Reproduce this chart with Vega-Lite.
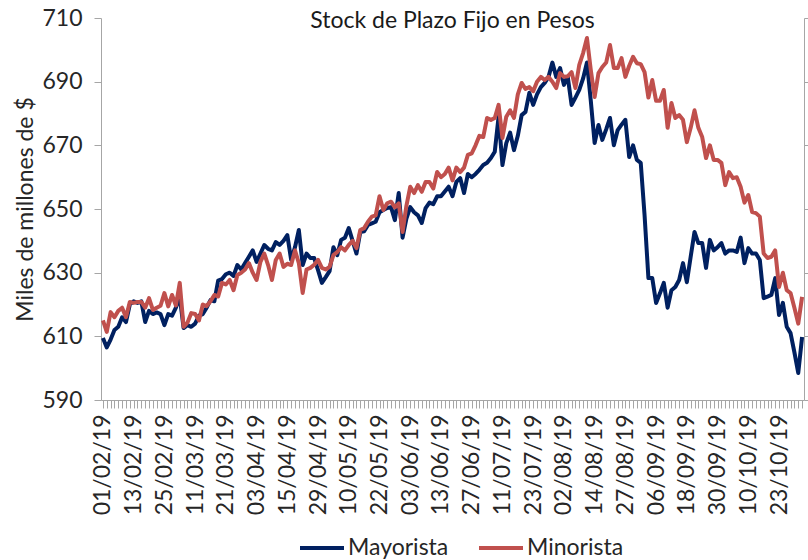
{
  "$schema": "https://vega.github.io/schema/vega-lite/v6.json",
  "width": 703,
  "height": 382,
  "autosize": {"type": "none"},
  "padding": {"left": 101, "top": 18, "right": 4, "bottom": 160},
  "background": "white",
  "config": {"view": {"stroke": null}, "font": "Lato"},
  "title": {"text": "Stock de Plazo Fijo en Pesos", "fontSize": 23, "fontWeight": "normal", "font": "Lato", "color": "#1a1a1a", "offset": -26, "anchor": "middle", "frame": "group"},
  "data": {"values": [
    {"d":"01/02/19","Mayorista":609.5,"Minorista":615},
    {"d":"04/02/19","Mayorista":606.5,"Minorista":611.4},
    {"d":"05/02/19","Mayorista":609,"Minorista":617.6},
    {"d":"06/02/19","Mayorista":612,"Minorista":616},
    {"d":"07/02/19","Mayorista":613,"Minorista":618},
    {"d":"08/02/19","Mayorista":616,"Minorista":619},
    {"d":"11/02/19","Mayorista":614.5,"Minorista":616},
    {"d":"12/02/19","Mayorista":620,"Minorista":620.8},
    {"d":"13/02/19","Mayorista":621,"Minorista":620.5},
    {"d":"14/02/19","Mayorista":620.5,"Minorista":620.8},
    {"d":"15/02/19","Mayorista":621,"Minorista":620.8},
    {"d":"18/02/19","Mayorista":614.5,"Minorista":619},
    {"d":"19/02/19","Mayorista":618,"Minorista":622},
    {"d":"20/02/19","Mayorista":617,"Minorista":618.3},
    {"d":"21/02/19","Mayorista":617.5,"Minorista":619},
    {"d":"22/02/19","Mayorista":617,"Minorista":619.6},
    {"d":"25/02/19","Mayorista":613.5,"Minorista":623.6},
    {"d":"26/02/19","Mayorista":617,"Minorista":619.4},
    {"d":"27/02/19","Mayorista":616.5,"Minorista":623},
    {"d":"28/02/19","Mayorista":619,"Minorista":619.7},
    {"d":"01/03/19","Mayorista":622.5,"Minorista":626.8},
    {"d":"06/03/19","Mayorista":612.6,"Minorista":613},
    {"d":"07/03/19","Mayorista":613.5,"Minorista":614.3},
    {"d":"08/03/19","Mayorista":613,"Minorista":617.3},
    {"d":"11/03/19","Mayorista":614,"Minorista":617},
    {"d":"12/03/19","Mayorista":616.5,"Minorista":615},
    {"d":"13/03/19","Mayorista":617,"Minorista":620},
    {"d":"14/03/19","Mayorista":619,"Minorista":619.5},
    {"d":"15/03/19","Mayorista":621.4,"Minorista":621},
    {"d":"18/03/19","Mayorista":621,"Minorista":623},
    {"d":"19/03/19","Mayorista":627.5,"Minorista":622.5},
    {"d":"20/03/19","Mayorista":628,"Minorista":626.8},
    {"d":"21/03/19","Mayorista":629.5,"Minorista":626.3},
    {"d":"22/03/19","Mayorista":630,"Minorista":627.7},
    {"d":"25/03/19","Mayorista":629,"Minorista":624.5},
    {"d":"26/03/19","Mayorista":632.4,"Minorista":629.3},
    {"d":"27/03/19","Mayorista":631,"Minorista":630},
    {"d":"28/03/19","Mayorista":633,"Minorista":631},
    {"d":"29/03/19","Mayorista":635,"Minorista":633},
    {"d":"01/04/19","Mayorista":637,"Minorista":630},
    {"d":"03/04/19","Mayorista":633.4,"Minorista":627.7},
    {"d":"04/04/19","Mayorista":636,"Minorista":633.4},
    {"d":"05/04/19","Mayorista":638.7,"Minorista":636},
    {"d":"08/04/19","Mayorista":637.5,"Minorista":632.4},
    {"d":"09/04/19","Mayorista":637,"Minorista":627.7},
    {"d":"10/04/19","Mayorista":639.6,"Minorista":634},
    {"d":"11/04/19","Mayorista":638.7,"Minorista":636},
    {"d":"12/04/19","Mayorista":640,"Minorista":631.8},
    {"d":"15/04/19","Mayorista":641.8,"Minorista":632.8},
    {"d":"16/04/19","Mayorista":634,"Minorista":632.4},
    {"d":"17/04/19","Mayorista":638,"Minorista":637},
    {"d":"22/04/19","Mayorista":643.4,"Minorista":633},
    {"d":"23/04/19","Mayorista":632.4,"Minorista":623.6},
    {"d":"24/04/19","Mayorista":636,"Minorista":631},
    {"d":"25/04/19","Mayorista":634.6,"Minorista":631.5},
    {"d":"26/04/19","Mayorista":634.6,"Minorista":632.5},
    {"d":"29/04/19","Mayorista":630.8,"Minorista":634},
    {"d":"30/04/19","Mayorista":626.8,"Minorista":631.5},
    {"d":"02/05/19","Mayorista":628.6,"Minorista":631},
    {"d":"03/05/19","Mayorista":630.5,"Minorista":631.8},
    {"d":"06/05/19","Mayorista":638,"Minorista":635.5},
    {"d":"07/05/19","Mayorista":635.5,"Minorista":636.5},
    {"d":"08/05/19","Mayorista":640.3,"Minorista":638},
    {"d":"09/05/19","Mayorista":641,"Minorista":637},
    {"d":"10/05/19","Mayorista":644,"Minorista":638.7},
    {"d":"13/05/19","Mayorista":640,"Minorista":640},
    {"d":"14/05/19","Mayorista":636,"Minorista":637.7},
    {"d":"15/05/19","Mayorista":642.8,"Minorista":643.4},
    {"d":"16/05/19","Mayorista":643,"Minorista":644},
    {"d":"17/05/19","Mayorista":645,"Minorista":646},
    {"d":"20/05/19","Mayorista":645.5,"Minorista":647.6},
    {"d":"21/05/19","Mayorista":646,"Minorista":648},
    {"d":"22/05/19","Mayorista":649,"Minorista":654},
    {"d":"23/05/19","Mayorista":649.7,"Minorista":649.7},
    {"d":"24/05/19","Mayorista":650.3,"Minorista":651.8},
    {"d":"27/05/19","Mayorista":650.6,"Minorista":652.3},
    {"d":"28/05/19","Mayorista":646.5,"Minorista":650.5},
    {"d":"29/05/19","Mayorista":655,"Minorista":651.8},
    {"d":"30/05/19","Mayorista":641,"Minorista":642.8},
    {"d":"31/05/19","Mayorista":647,"Minorista":651},
    {"d":"03/06/19","Mayorista":650.6,"Minorista":657},
    {"d":"04/06/19","Mayorista":649,"Minorista":655},
    {"d":"05/06/19","Mayorista":648,"Minorista":657.5},
    {"d":"06/06/19","Mayorista":645.6,"Minorista":655.4},
    {"d":"07/06/19","Mayorista":650.3,"Minorista":658.5},
    {"d":"10/06/19","Mayorista":652,"Minorista":658.5},
    {"d":"11/06/19","Mayorista":651.5,"Minorista":656.4},
    {"d":"12/06/19","Mayorista":654,"Minorista":661.6},
    {"d":"13/06/19","Mayorista":654,"Minorista":660},
    {"d":"14/06/19","Mayorista":655.5,"Minorista":661},
    {"d":"18/06/19","Mayorista":657,"Minorista":663},
    {"d":"19/06/19","Mayorista":654,"Minorista":659},
    {"d":"21/06/19","Mayorista":658.5,"Minorista":663},
    {"d":"24/06/19","Mayorista":659.7,"Minorista":661.6},
    {"d":"25/06/19","Mayorista":655,"Minorista":663},
    {"d":"26/06/19","Mayorista":661,"Minorista":667},
    {"d":"27/06/19","Mayorista":660,"Minorista":667.5},
    {"d":"28/06/19","Mayorista":661,"Minorista":670},
    {"d":"01/07/19","Mayorista":662.3,"Minorista":673},
    {"d":"02/07/19","Mayorista":663.8,"Minorista":672.6},
    {"d":"03/07/19","Mayorista":664.5,"Minorista":678.6},
    {"d":"04/07/19","Mayorista":666,"Minorista":678},
    {"d":"05/07/19","Mayorista":668,"Minorista":678.6},
    {"d":"10/07/19","Mayorista":679,"Minorista":682.7},
    {"d":"11/07/19","Mayorista":663.8,"Minorista":672.3},
    {"d":"12/07/19","Mayorista":670.7,"Minorista":679},
    {"d":"15/07/19","Mayorista":674,"Minorista":681},
    {"d":"16/07/19","Mayorista":668.5,"Minorista":678.6},
    {"d":"17/07/19","Mayorista":673,"Minorista":686},
    {"d":"18/07/19","Mayorista":679.5,"Minorista":689.6},
    {"d":"19/07/19","Mayorista":680.5,"Minorista":687.7},
    {"d":"22/07/19","Mayorista":686.5,"Minorista":688.3},
    {"d":"23/07/19","Mayorista":682.7,"Minorista":687},
    {"d":"24/07/19","Mayorista":686,"Minorista":690},
    {"d":"25/07/19","Mayorista":688.3,"Minorista":691.5},
    {"d":"26/07/19","Mayorista":689.6,"Minorista":690.5},
    {"d":"29/07/19","Mayorista":691.5,"Minorista":691.5},
    {"d":"30/07/19","Mayorista":696,"Minorista":690},
    {"d":"31/07/19","Mayorista":691.5,"Minorista":688},
    {"d":"01/08/19","Mayorista":694.3,"Minorista":692.7},
    {"d":"02/08/19","Mayorista":689,"Minorista":691.5},
    {"d":"05/08/19","Mayorista":691.5,"Minorista":691.7},
    {"d":"06/08/19","Mayorista":682.7,"Minorista":693},
    {"d":"07/08/19","Mayorista":685,"Minorista":688},
    {"d":"08/08/19","Mayorista":687.4,"Minorista":695.3},
    {"d":"09/08/19","Mayorista":691,"Minorista":699},
    {"d":"12/08/19","Mayorista":696,"Minorista":703.7},
    {"d":"13/08/19","Mayorista":684,"Minorista":693.7},
    {"d":"14/08/19","Mayorista":670.7,"Minorista":685.2},
    {"d":"15/08/19","Mayorista":676.4,"Minorista":692.7},
    {"d":"16/08/19","Mayorista":671.7,"Minorista":694.6},
    {"d":"20/08/19","Mayorista":675,"Minorista":696},
    {"d":"21/08/19","Mayorista":678.6,"Minorista":701.5},
    {"d":"22/08/19","Mayorista":670,"Minorista":694.3},
    {"d":"23/08/19","Mayorista":674.8,"Minorista":694.3},
    {"d":"26/08/19","Mayorista":676.5,"Minorista":697.4},
    {"d":"27/08/19","Mayorista":678,"Minorista":691.5},
    {"d":"28/08/19","Mayorista":666.3,"Minorista":695},
    {"d":"29/08/19","Mayorista":670,"Minorista":697.8},
    {"d":"30/08/19","Mayorista":665.4,"Minorista":695.8},
    {"d":"02/09/19","Mayorista":664.5,"Minorista":695.5},
    {"d":"03/09/19","Mayorista":648,"Minorista":693},
    {"d":"04/09/19","Mayorista":628.3,"Minorista":685},
    {"d":"05/09/19","Mayorista":628.3,"Minorista":690.5},
    {"d":"06/09/19","Mayorista":620.5,"Minorista":684},
    {"d":"09/09/19","Mayorista":623.5,"Minorista":684},
    {"d":"10/09/19","Mayorista":626.8,"Minorista":687.4},
    {"d":"11/09/19","Mayorista":619,"Minorista":675.5},
    {"d":"12/09/19","Mayorista":624.5,"Minorista":683.3},
    {"d":"13/09/19","Mayorista":625.5,"Minorista":678.6},
    {"d":"16/09/19","Mayorista":627.7,"Minorista":679.5},
    {"d":"17/09/19","Mayorista":633,"Minorista":678},
    {"d":"18/09/19","Mayorista":627,"Minorista":671},
    {"d":"19/09/19","Mayorista":635,"Minorista":675.5},
    {"d":"20/09/19","Mayorista":642.8,"Minorista":681},
    {"d":"23/09/19","Mayorista":639.3,"Minorista":675.5},
    {"d":"24/09/19","Mayorista":639.3,"Minorista":672.6},
    {"d":"25/09/19","Mayorista":631.5,"Minorista":666},
    {"d":"26/09/19","Mayorista":640.3,"Minorista":670},
    {"d":"27/09/19","Mayorista":637,"Minorista":665.4},
    {"d":"30/09/19","Mayorista":638,"Minorista":665.4},
    {"d":"01/10/19","Mayorista":639.3,"Minorista":664.5},
    {"d":"02/10/19","Mayorista":636,"Minorista":657.5},
    {"d":"03/10/19","Mayorista":637,"Minorista":661.6},
    {"d":"04/10/19","Mayorista":637,"Minorista":659.7},
    {"d":"07/10/19","Mayorista":636.5,"Minorista":660},
    {"d":"08/10/19","Mayorista":641,"Minorista":657},
    {"d":"09/10/19","Mayorista":633,"Minorista":652},
    {"d":"10/10/19","Mayorista":637.7,"Minorista":654.4},
    {"d":"11/10/19","Mayorista":636,"Minorista":649},
    {"d":"15/10/19","Mayorista":636,"Minorista":648.7},
    {"d":"16/10/19","Mayorista":634,"Minorista":647.6},
    {"d":"17/10/19","Mayorista":622,"Minorista":636},
    {"d":"18/10/19","Mayorista":622.5,"Minorista":634.6},
    {"d":"21/10/19","Mayorista":623,"Minorista":635},
    {"d":"22/10/19","Mayorista":628.3,"Minorista":637},
    {"d":"23/10/19","Mayorista":616.7,"Minorista":625.5},
    {"d":"24/10/19","Mayorista":620.5,"Minorista":630},
    {"d":"25/10/19","Mayorista":613,"Minorista":624.5},
    {"d":"28/10/19","Mayorista":611,"Minorista":623.6},
    {"d":"29/10/19","Mayorista":605,"Minorista":619},
    {"d":"30/10/19","Mayorista":598.5,"Minorista":614},
    {"d":"31/10/19","Mayorista":609.8,"Minorista":622.4}
  ]},
  "transform": [{"fold": ["Mayorista", "Minorista"], "as": ["serie", "valor"]}],
  "layer": [
    {
      "mark": {"type": "line", "strokeWidth": 4, "strokeJoin": "round"},
      "encoding": {
        "x": {
          "field": "d", "type": "ordinal", "sort": null, "title": null,
          "axis": {
            "labelAngle": -90, "labelAlign": "right", "labelBaseline": "middle",
            "labelExpr": "indexof(['01/02/19','13/02/19','25/02/19','11/03/19','21/03/19','03/04/19','15/04/19','29/04/19','10/05/19','22/05/19','03/06/19','13/06/19','27/06/19','11/07/19','23/07/19','02/08/19','14/08/19','27/08/19','06/09/19','18/09/19','30/09/19','10/10/19','23/10/19'], datum.value) >= 0 ? datum.value : ''",
            "labelOverlap": false, "labelFontSize": 23, "labelFont": "Lato", "labelColor": "#262626",
            "labelPadding": 6, "tickSize": 8, "tickColor": "#a6a6a6", "domainColor": "#a6a6a6", "grid": false
          }
        },
        "y": {
          "field": "valor", "type": "quantitative",
          "scale": {"domain": [590, 710], "nice": false, "zero": false},
          "axis": {
            "values": [590, 610, 630, 650, 670, 690, 710], "grid": false,
            "title": "Miles de millones de $", "titleFontSize": 23, "titleFont": "Lato", "titleFontWeight": "normal", "titleColor": "#262626",
            "titleAngle": -90, "titleX": -69, "titleY": 191, "titleAlign": "center", "titleBaseline": "alphabetic",
            "labelFontSize": 23, "labelFont": "Lato", "labelColor": "#262626", "labelPadding": 12,
            "tickSize": 7, "tickColor": "#a6a6a6", "domainColor": "#a6a6a6"
          }
        },
        "color": {
          "field": "serie", "type": "nominal",
          "scale": {"domain": ["Mayorista", "Minorista"], "range": ["#002060", "#C0504D"]},
          "legend": {
            "orient": "none", "legendX": 197, "legendY": 506, "direction": "horizontal", "title": null,
            "symbolType": "stroke", "symbolSize": 1936, "symbolStrokeWidth": 4,
            "labelFontSize": 23, "labelFont": "Lato", "labelColor": "#262626", "labelOffset": 2, "columnPadding": 22
          }
        }
      }
    },
    {
      "mark": {"type": "line", "opacity": 0},
      "encoding": {
        "x": {"field": "d", "type": "ordinal", "sort": null},
        "y": {
          "field": "valor", "type": "quantitative",
          "axis": {"orient": "right", "values": [590, 610, 630, 650, 670, 690, 710], "labels": false, "title": null, "grid": false, "tickSize": 5, "tickColor": "#a6a6a6", "domainColor": "#a6a6a6"}
        },
        "detail": {"field": "serie"}
      }
    }
  ],
  "resolve": {"axis": {"y": "independent"}}
}
